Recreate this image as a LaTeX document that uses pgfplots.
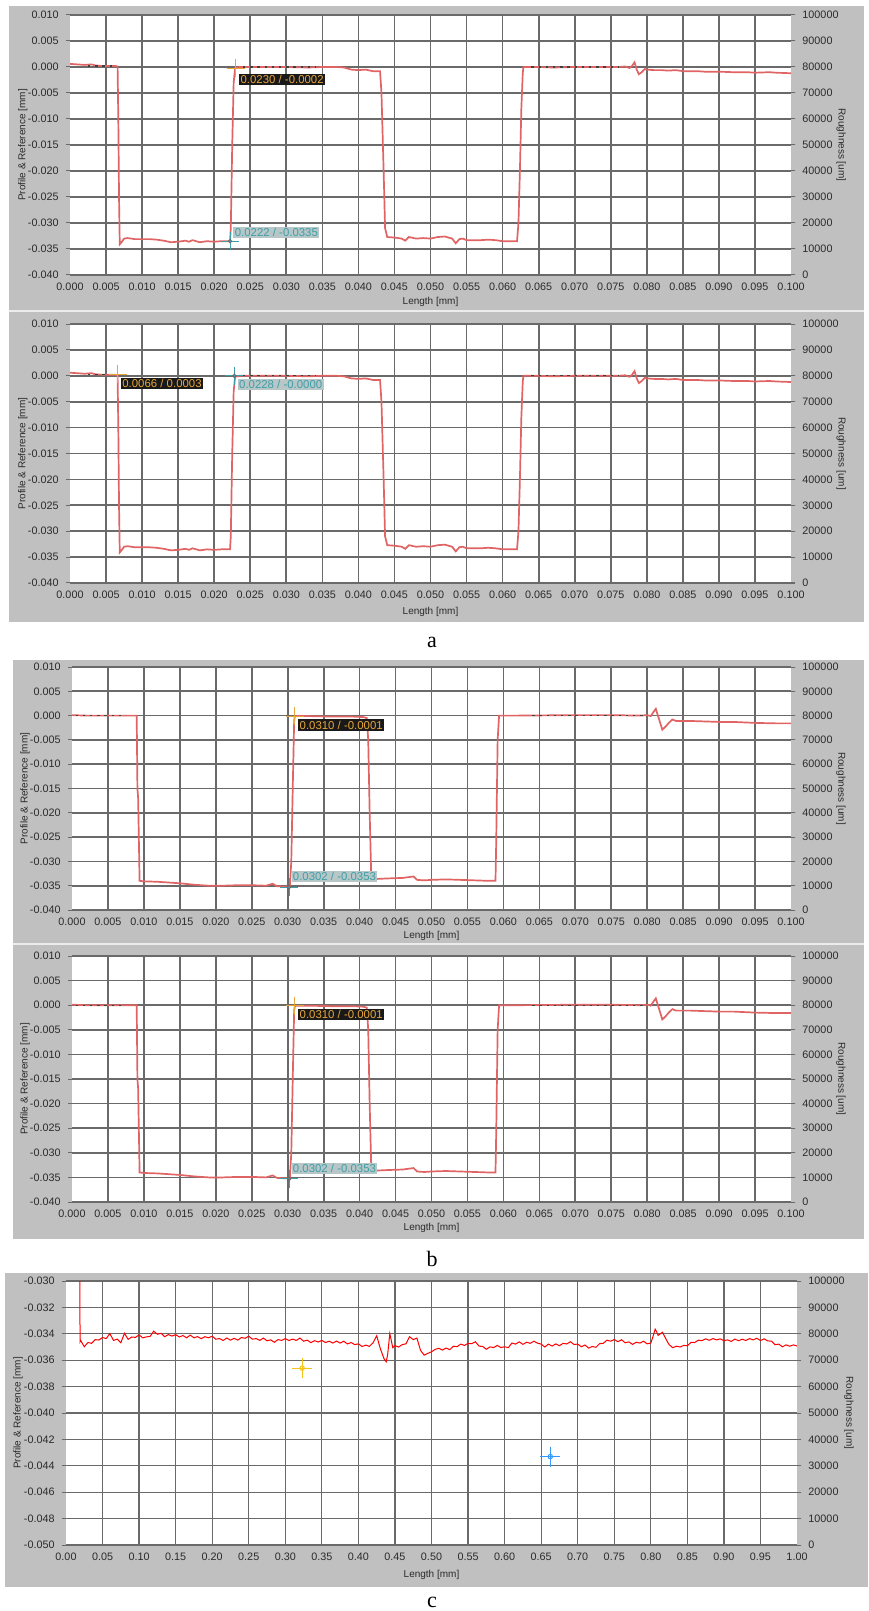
\documentclass[border=0pt]{standalone}
\usepackage{fontspec}
\setmainfont{Liberation Sans}
\newfontfamily\serifx{Liberation Serif}
\usepackage{pgfplots}
\usepackage{pgfplotstable}
\pgfplotsset{compat=1.18}
\definecolor{panelgray}{HTML}{C0C0C0}
\definecolor{gridc}{HTML}{6A6A6A}
\definecolor{prof}{HTML}{E06464}
\definecolor{curO}{HTML}{E8A53A}
\definecolor{curT}{HTML}{3F9FA8}
\definecolor{boxT}{HTML}{B7C6C7}
\definecolor{labc}{HTML}{2A2A2A}
\definecolor{curY}{HTML}{F2C318}
\definecolor{curB}{HTML}{3399FF}

\pgfplotstableread{
x y
0.0000 0.0006
0.0010 0.0005
0.0020 0.0004
0.0030 0.0005
0.0035 0.0003
0.0045 0.0002
0.0055 0.0002
0.0063 0.0002
0.0066 0.0001
0.0067 -0.0100
0.0068 -0.0250
0.0069 -0.0341
0.0072 -0.0336
0.0075 -0.0330
0.0080 -0.0329
0.0090 -0.0331
0.0100 -0.0331
0.0110 -0.0331
0.0120 -0.0332
0.0130 -0.0334
0.0140 -0.0337
0.0150 -0.0336
0.0160 -0.0334
0.0165 -0.0336
0.0170 -0.0333
0.0180 -0.0337
0.0190 -0.0335
0.0200 -0.0336
0.0210 -0.0335
0.0222 -0.0335
0.0223 -0.0310
0.0225 -0.0150
0.0227 -0.0030
0.0229 -0.0002
0.0235 0.0000
0.0250 0.0000
0.0280 0.0000
0.0300 0.0000
0.0330 -0.0001
0.0350 0.0000
0.0370 0.0000
0.0380 -0.0001
0.0390 -0.0005
0.0400 -0.0006
0.0410 -0.0005
0.0420 -0.0008
0.0430 -0.0008
0.0432 -0.0050
0.0435 -0.0200
0.0437 -0.0310
0.0440 -0.0327
0.0450 -0.0328
0.0460 -0.0330
0.0465 -0.0334
0.0470 -0.0327
0.0480 -0.0330
0.0490 -0.0329
0.0500 -0.0330
0.0510 -0.0327
0.0520 -0.0326
0.0530 -0.0330
0.0535 -0.0339
0.0540 -0.0331
0.0545 -0.0330
0.0550 -0.0333
0.0560 -0.0333
0.0570 -0.0333
0.0580 -0.0332
0.0590 -0.0333
0.0600 -0.0335
0.0610 -0.0335
0.0620 -0.0335
0.0622 -0.0300
0.0624 -0.0200
0.0626 -0.0080
0.0628 -0.0010
0.0629 0.0000
0.0635 0.0000
0.0650 0.0000
0.0670 -0.0001
0.0700 0.0000
0.0730 0.0000
0.0760 0.0000
0.0770 0.0001
0.0776 -0.0002
0.0779 0.0001
0.0783 0.0009
0.0786 -0.0005
0.0789 -0.0014
0.0793 -0.0010
0.0797 -0.0004
0.0800 -0.0005
0.0810 -0.0006
0.0820 -0.0006
0.0830 -0.0007
0.0840 -0.0006
0.0850 -0.0008
0.0870 -0.0008
0.0880 -0.0009
0.0900 -0.0009
0.0920 -0.0010
0.0940 -0.0010
0.0950 -0.0011
0.0970 -0.0010
0.0980 -0.0011
0.1000 -0.0012
}\profA

\pgfplotstableread{
x y
0.0000 0.0001
0.0020 0.0000
0.0050 0.0000
0.0080 0.0000
0.0090 0.0000
0.0091 -0.0150
0.0092 -0.0170
0.0094 -0.0340
0.0100 -0.0341
0.0120 -0.0342
0.0140 -0.0344
0.0150 -0.0345
0.0170 -0.0348
0.0190 -0.0350
0.0210 -0.0350
0.0230 -0.0349
0.0250 -0.0349
0.0270 -0.0350
0.0279 -0.0346
0.0285 -0.0351
0.0300 -0.0352
0.0303 -0.0352
0.0305 -0.0300
0.0307 -0.0150
0.0309 -0.0010
0.0310 -0.0001
0.0330 -0.0001
0.0360 -0.0002
0.0390 -0.0002
0.0405 -0.0003
0.0410 -0.0005
0.0412 -0.0050
0.0414 -0.0200
0.0416 -0.0320
0.0418 -0.0338
0.0425 -0.0336
0.0440 -0.0335
0.0460 -0.0334
0.0475 -0.0331
0.0480 -0.0338
0.0490 -0.0339
0.0500 -0.0338
0.0520 -0.0337
0.0540 -0.0338
0.0560 -0.0339
0.0580 -0.0340
0.0589 -0.0340
0.0590 -0.0260
0.0592 -0.0050
0.0594 0.0000
0.0620 0.0000
0.0700 0.0001
0.0750 0.0001
0.0790 0.0000
0.0800 0.0001
0.0805 -0.0001
0.0809 0.0008
0.0812 0.0014
0.0816 -0.0005
0.0821 -0.0029
0.0826 -0.0022
0.0830 -0.0015
0.0835 -0.0008
0.0840 -0.0011
0.0860 -0.0011
0.0880 -0.0012
0.0900 -0.0013
0.0920 -0.0013
0.0950 -0.0015
0.0980 -0.0016
0.1000 -0.0016
}\profB

\pgfplotstableread{
x y
0.0190 -0.0290
0.0192 -0.03460
0.020 -0.03450
0.025 -0.03498
0.030 -0.03466
0.035 -0.03472
0.040 -0.03444
0.045 -0.03447
0.050 -0.03428
0.055 -0.03436
0.060 -0.03398
0.065 -0.03450
0.070 -0.03440
0.075 -0.03468
0.080 -0.03396
0.085 -0.03442
0.090 -0.03424
0.095 -0.03427
0.100 -0.03408
0.105 -0.03431
0.110 -0.03423
0.115 -0.03420
0.120 -0.03380
0.125 -0.03403
0.130 -0.03396
0.135 -0.03422
0.140 -0.03406
0.145 -0.03417
0.150 -0.03406
0.155 -0.03424
0.160 -0.03413
0.165 -0.03430
0.170 -0.03410
0.175 -0.03430
0.180 -0.03421
0.185 -0.03437
0.190 -0.03422
0.195 -0.03430
0.200 -0.03418
0.205 -0.03441
0.210 -0.03436
0.215 -0.03450
0.220 -0.03432
0.225 -0.03448
0.230 -0.03434
0.235 -0.03448
0.240 -0.03428
0.245 -0.03434
0.250 -0.03418
0.255 -0.03441
0.260 -0.03436
0.265 -0.03450
0.270 -0.03432
0.275 -0.03453
0.280 -0.03446
0.285 -0.03464
0.290 -0.03444
0.295 -0.03450
0.300 -0.03436
0.305 -0.03451
0.310 -0.03440
0.315 -0.03450
0.320 -0.03432
0.325 -0.03456
0.330 -0.03448
0.335 -0.03467
0.340 -0.03452
0.345 -0.03462
0.350 -0.03450
0.355 -0.03466
0.360 -0.03456
0.365 -0.03470
0.370 -0.03455
0.375 -0.03470
0.380 -0.03456
0.385 -0.03477
0.390 -0.03466
0.395 -0.03482
0.400 -0.03476
0.405 -0.03496
0.410 -0.03486
0.415 -0.03495
0.420 -0.03468
0.425 -0.03415
0.430 -0.03512
0.435 -0.03588
0.438 -0.03612
0.440 -0.03558
0.443 -0.03398
0.447 -0.03505
0.450 -0.03490
0.455 -0.03500
0.460 -0.03482
0.465 -0.03476
0.470 -0.03422
0.475 -0.03444
0.480 -0.03432
0.485 -0.03525
0.490 -0.03562
0.495 -0.03548
0.500 -0.03536
0.505 -0.03518
0.510 -0.03510
0.515 -0.03523
0.520 -0.03508
0.525 -0.03520
0.530 -0.03494
0.535 -0.03497
0.540 -0.03478
0.545 -0.03488
0.550 -0.03473
0.555 -0.03475
0.560 -0.03460
0.565 -0.03493
0.570 -0.03496
0.575 -0.03517
0.580 -0.03499
0.585 -0.03504
0.590 -0.03488
0.595 -0.03504
0.600 -0.03498
0.605 -0.03505
0.610 -0.03470
0.615 -0.03478
0.620 -0.03461
0.625 -0.03480
0.630 -0.03464
0.635 -0.03472
0.640 -0.03456
0.645 -0.03471
0.650 -0.03478
0.655 -0.03500
0.660 -0.03478
0.665 -0.03493
0.670 -0.03476
0.675 -0.03490
0.680 -0.03472
0.685 -0.03477
0.690 -0.03460
0.695 -0.03481
0.700 -0.03478
0.705 -0.03498
0.710 -0.03485
0.715 -0.03508
0.720 -0.03496
0.725 -0.03502
0.730 -0.03474
0.735 -0.03472
0.740 -0.03448
0.745 -0.03456
0.750 -0.03443
0.755 -0.03460
0.760 -0.03445
0.765 -0.03468
0.770 -0.03461
0.775 -0.03480
0.780 -0.03464
0.785 -0.03470
0.790 -0.03456
0.795 -0.03476
0.800 -0.03470
0.803 -0.03420
0.806 -0.03365
0.808 -0.03385
0.810 -0.03412
0.813 -0.03400
0.816 -0.03388
0.820 -0.03432
0.825 -0.03482
0.830 -0.03505
0.835 -0.03494
0.840 -0.03500
0.845 -0.03488
0.850 -0.03490
0.855 -0.03465
0.860 -0.03466
0.865 -0.03448
0.870 -0.03452
0.875 -0.03438
0.880 -0.03449
0.885 -0.03436
0.890 -0.03446
0.895 -0.03438
0.900 -0.03452
0.905 -0.03446
0.910 -0.03458
0.915 -0.03440
0.920 -0.03452
0.925 -0.03441
0.930 -0.03450
0.935 -0.03436
0.940 -0.03446
0.945 -0.03434
0.950 -0.03451
0.955 -0.03438
0.960 -0.03454
0.965 -0.03455
0.970 -0.03483
0.975 -0.03478
0.980 -0.03498
0.985 -0.03484
0.990 -0.03494
0.995 -0.03484
1.000 -0.03492
}\profC

\tikzset{
  boxO/.style={fill=black!90, text=curO, font=\fontsize{5.7}{6}\selectfont, inner sep=0.7pt},
  boxTs/.style={fill=boxT, text=curT, font=\fontsize{5.7}{6}\selectfont, inner sep=0.7pt},
}

\pgfplotsset{
  base/.style={
    scale only axis, anchor=north west,
    scaled ticks=false,
    axis line style={draw=none},
    tick align=outside, major tick length=2.2pt,
    ticklabel style={font=\fontsize{5.4}{6}\selectfont, text=labc},
    label style={font=\fontsize{5}{6}\selectfont, text=labc},
    /pgf/number format/assume math mode=true,
  },
  leftA/.style={
    base,
    axis background/.style={fill=white},
    xmin=0, xmax=0.1, ymin=-0.04, ymax=0.01,
    ytick={-0.04,-0.035,-0.03,-0.025,-0.02,-0.015,-0.01,-0.005,0,0.005,0.01},
    yticklabels={-0.040,-0.035,-0.030,-0.025,-0.020,-0.015,-0.010,-0.005,0.000,0.005,0.010},
    xtick={0.005,0.01,0.015,0.02,0.025,0.03,0.035,0.04,0.045,0.05,0.055,0.06,0.065,0.07,0.075,0.08,0.085,0.09,0.095},
    xticklabels={0.005,0.010,0.015,0.020,0.025,0.030,0.035,0.040,0.045,0.050,0.055,0.060,0.065,0.070,0.075,0.080,0.085,0.090,0.095},
    extra x ticks={0,0.1},
    extra x tick labels={0.000,0.100},
    extra x tick style={grid=none},
    xtick style={draw=none},
    xticklabel style={yshift=2pt},
    ytick style={draw=gridc, line width=0.5pt},
    grid=major, grid style={draw=gridc, line width=0.85pt},
    xlabel={Length [mm]},
    ylabel={Profile \& Reference [mm]},
    xlabel style={anchor=center},
    ylabel style={at={(axis description cs:-0.0653,0.5)}, anchor=center},
  },
  rightA/.style={
    base,
    xmin=0, xmax=0.1, ymin=0, ymax=100000,
    axis x line=none, axis y line*=right,
    ytick={0,10000,20000,30000,40000,50000,60000,70000,80000,90000,100000},
    yticklabels={0,10000,20000,30000,40000,50000,60000,70000,80000,90000,100000},
    ytick style={draw=gridc, line width=0.5pt},
    yticklabel style={anchor=west},
    ylabel={Roughness [um]},
    ylabel style={at={(axis description cs:1.0695,0.5)}, anchor=center, rotate=180},
  },
  profstyle/.style={draw=prof, line width=0.85pt, no marks},
  refstyle/.style={draw=black!75, line width=0.6pt, dash pattern=on 1.2pt off 2.4pt, no marks},
  cO/.style={only marks, mark=+, mark size=4.5pt, mark options={draw=curO, line width=0.5pt}},
  cT/.style={only marks, mark=+, mark size=4.5pt, mark options={draw=curT, line width=0.5pt}},
  cTo/.style={only marks, mark=o, mark size=0.9pt, mark options={draw=gridc, line width=0.4pt}},
}

\begin{document}
\begin{tikzpicture}
\path[use as bounding box, fill=white] (0,0) rectangle (434pt,-805.5pt);
% panel backgrounds
\fill[panelgray] (4.5pt,-3pt) rectangle (432pt,-155.5pt);
\fill[panelgray] (4.5pt,-155.5pt) rectangle (432pt,-311pt);
\draw[white!70!panelgray, line width=0.8pt] (4.5pt,-155.5pt) -- (432pt,-155.5pt);
\fill[panelgray] (6.5pt,-330pt) rectangle (432pt,-472pt);
\fill[panelgray] (6.5pt,-472pt) rectangle (432pt,-619.5pt);
\draw[white!70!panelgray, line width=0.8pt] (6.5pt,-472pt) -- (432pt,-472pt);
\fill[panelgray] (2.5pt,-636.5pt) rectangle (434pt,-793.5pt);

% ---------- a1 ----------
\begin{axis}[leftA, at={(35pt,-7.5pt)}, width=360.5pt, height=130pt,
  xlabel style={at={(axis description cs:0.5,-0.104)}}]
\addplot[profstyle] table[x=x,y=y] {\profA};
\addplot[refstyle] coordinates {(0.0025,0.0002) (0.0062,0.0002)};
\addplot[refstyle] coordinates {(0.0240,0.0000) (0.0340,0.0000)};
\addplot[refstyle] coordinates {(0.0640,0.0000) (0.0760,0.0000)};
\addplot[cO] coordinates {(0.0230,-0.0002)};
\addplot[cT] coordinates {(0.0222,-0.0335)};
\addplot[cTo] coordinates {(0.0222,-0.0335)};
\node[boxO, anchor=north west, xshift=1.5pt, yshift=-2.8pt] at (axis cs:0.0230,-0.0002) {0.0230 / -0.0002};
\node[boxTs, anchor=south west, xshift=1.5pt, yshift=1.5pt] at (axis cs:0.0222,-0.0335) {0.0222 / -0.0335};
\end{axis}
\begin{axis}[rightA, at={(35pt,-7.5pt)}, width=360.5pt, height=130pt]
\end{axis}

% ---------- a2 ----------
\begin{axis}[leftA, at={(35pt,-162pt)}, width=360.5pt, height=129.5pt,
  xlabel style={at={(axis description cs:0.5,-0.112)}}]
\addplot[profstyle] table[x=x,y=y] {\profA};
\addplot[refstyle] coordinates {(0.0025,0.0002) (0.0062,0.0002)};
\addplot[refstyle] coordinates {(0.0240,0.0000) (0.0340,0.0000)};
\addplot[refstyle] coordinates {(0.0640,0.0000) (0.0760,0.0000)};
\addplot[cO] coordinates {(0.0066,0.0003)};
\addplot[cT] coordinates {(0.0228,0.0000)};
\addplot[cTo] coordinates {(0.0228,0.0000)};
\node[boxO, anchor=north west, xshift=1.5pt, yshift=-1.5pt] at (axis cs:0.0066,0.0003) {0.0066 / 0.0003};
\node[boxTs, anchor=north west, xshift=1.5pt, yshift=-1.5pt] at (axis cs:0.0228,0.0000) {0.0228 / -0.0000};
\end{axis}
\begin{axis}[rightA, at={(35pt,-162pt)}, width=360.5pt, height=129.5pt]
\end{axis}

\node[font=\serifx\fontsize{11}{12}\selectfont, anchor=base] at (216pt,-323.5pt) {a};

% ---------- b1 ----------
\begin{axis}[leftA, at={(36pt,-333.5pt)}, width=359.5pt, height=121.5pt,
  xlabel style={at={(axis description cs:0.5,-0.107)}}]
\addplot[profstyle] table[x=x,y=y] {\profB};
\addplot[refstyle] coordinates {(0.0005,0.0000) (0.0075,0.0000)};
\addplot[refstyle] coordinates {(0.0640,0.0000) (0.0800,0.0000)};
\addplot[cO] coordinates {(0.0310,-0.0001)};
\addplot[cT] coordinates {(0.0302,-0.0353)};
\addplot[cTo] coordinates {(0.0302,-0.0353)};
\node[boxO, anchor=north west, xshift=1.5pt, yshift=-1.5pt] at (axis cs:0.0310,-0.0001) {0.0310 / -0.0001};
\node[boxTs, anchor=south west, xshift=1pt, yshift=2.3pt] at (axis cs:0.0302,-0.0353) {0.0302 / -0.0353};
\end{axis}
\begin{axis}[rightA, at={(36pt,-333.5pt)}, width=359.5pt, height=121.5pt]
\end{axis}

% ---------- b2 ----------
\begin{axis}[leftA, at={(36pt,-478pt)}, width=359.5pt, height=123pt,
  xlabel style={at={(axis description cs:0.5,-0.106)}}]
\addplot[profstyle] table[x=x,y=y] {\profB};
\addplot[refstyle] coordinates {(0.0005,0.0000) (0.0075,0.0000)};
\addplot[refstyle] coordinates {(0.0640,0.0000) (0.0800,0.0000)};
\addplot[cO] coordinates {(0.0310,-0.0001)};
\addplot[cT] coordinates {(0.0302,-0.0353)};
\addplot[cTo] coordinates {(0.0302,-0.0353)};
\node[boxO, anchor=north west, xshift=1.5pt, yshift=-1.5pt] at (axis cs:0.0310,-0.0001) {0.0310 / -0.0001};
\node[boxTs, anchor=south west, xshift=1pt, yshift=2.3pt] at (axis cs:0.0302,-0.0353) {0.0302 / -0.0353};
\end{axis}
\begin{axis}[rightA, at={(36pt,-478pt)}, width=359.5pt, height=123pt]
\end{axis}

\node[font=\serifx\fontsize{11}{12}\selectfont, anchor=base] at (216pt,-633pt) {b};

% ---------- c ----------
\begin{axis}[leftA, at={(33pt,-640.5pt)}, width=365.5pt, height=132pt,
  xmin=0, xmax=1, ymin=-0.05, ymax=-0.03,
  ytick={-0.05,-0.048,-0.046,-0.044,-0.042,-0.04,-0.038,-0.036,-0.034,-0.032,-0.03},
  yticklabels={-0.050,-0.048,-0.046,-0.044,-0.042,-0.040,-0.038,-0.036,-0.034,-0.032,-0.030},
  xtick={0.05,0.1,0.15,0.2,0.25,0.3,0.35,0.4,0.45,0.5,0.55,0.6,0.65,0.7,0.75,0.8,0.85,0.9,0.95},
  xticklabels={0.05,0.10,0.15,0.20,0.25,0.30,0.35,0.40,0.45,0.50,0.55,0.60,0.65,0.70,0.75,0.80,0.85,0.90,0.95},
  extra x ticks={0,1}, extra x tick labels={0.00,1.00},
  grid style={draw=gridc, line width=0.6pt},
  xlabel style={at={(axis description cs:0.5,-0.114)}},
  ylabel style={at={(axis description cs:-0.0657,0.5)}}]
\addplot[draw=red, line width=0.5pt, no marks] table[x=x,y=y] {\profC};
\addplot[only marks, mark=+, mark size=5pt, mark options={draw=curY, line width=0.6pt}] coordinates {(0.323,-0.0366)};
\addplot[only marks, mark=o, mark size=1.1pt, mark options={draw=curY, fill=white, line width=0.5pt}] coordinates {(0.323,-0.0366)};
\addplot[only marks, mark=+, mark size=5pt, mark options={draw=curB, line width=0.6pt}] coordinates {(0.6625,-0.0433)};
\addplot[only marks, mark=o, mark size=1.1pt, mark options={draw=curB, fill=white, line width=0.5pt}] coordinates {(0.6625,-0.0433)};
\end{axis}
\begin{axis}[rightA, at={(33pt,-640.5pt)}, width=365.5pt, height=132pt, xmin=0, xmax=1,
  ylabel style={at={(axis description cs:1.071,0.5)}}]
\end{axis}

\node[font=\serifx\fontsize{11}{12}\selectfont, anchor=base] at (216pt,-803.5pt) {c};
\end{tikzpicture}
\end{document}
